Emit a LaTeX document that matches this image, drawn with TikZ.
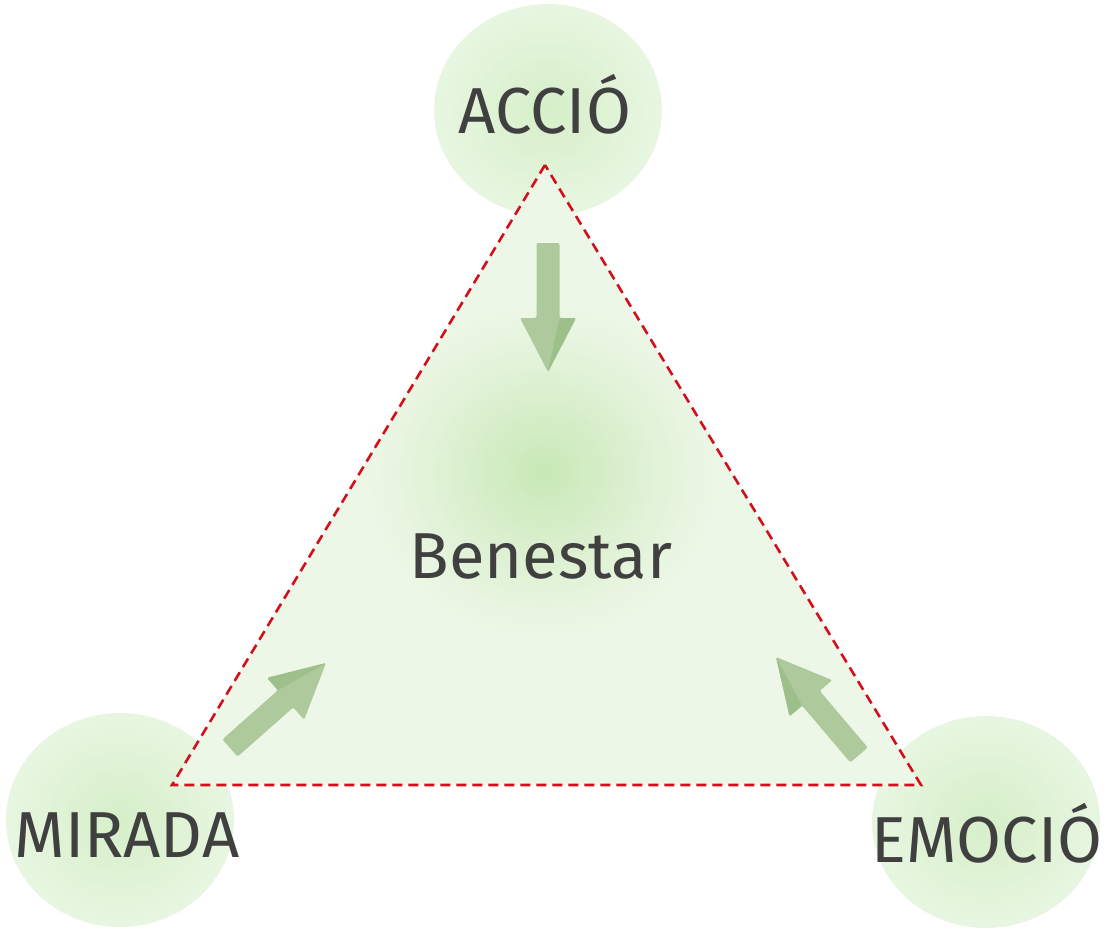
\documentclass[tikz,border=0pt]{standalone}
\usepackage{fontspec}
\setmainfont{Fira Sans}
\usetikzlibrary{calc}
\definecolor{txt}{HTML}{404040}
\definecolor{circin}{HTML}{D6EFC9}
\definecolor{circout}{HTML}{E8F6E1}
\definecolor{trifill}{HTML}{EDF7E7}
\definecolor{glow}{HTML}{C8E8B6}
\definecolor{dashred}{HTML}{D2101C}
\definecolor{arrlight}{HTML}{AECA9D}
\definecolor{arrdark}{HTML}{9DBF89}
\newcommand{\grarrow}[2]{%
  \coordinate (B) at ($(#2)!54pt!(#1)$);
  \fill[arrlight, rounded corners=2pt] ($(#1)!11.5pt!90:(#2)$) -- ($(B)!11.5pt!90:(#2)$) -- ($(B)!28pt!90:(#2)$) -- (#2) -- ($(B)!28pt!-90:(#2)$) -- ($(B)!11.5pt!-90:(#2)$) -- ($(#1)!11.5pt!-90:(#2)$) -- cycle;
  \fill[arrdark, rounded corners=2pt] ($(B)!11.5pt!90:(#2)$) -- ($(B)!28pt!90:(#2)$) -- (#2) -- cycle;
}
% soft bubble made of concentric solid fills: centre, x radius, y radius
\newcommand{\softbubble}[4]{%
  \foreach \i in {0,...,30}{%
    \pgfmathsetmacro{\f}{1-\i/31}%
    \pgfmathsetmacro{\p}{100*\i/30}%
    \fill[#4!\p!circout] #1 ellipse [x radius={#2*\f}, y radius={#3*\f}];
  }%
}
\begin{document}
\begin{tikzpicture}[x=1pt,y=-1pt,
  lbl/.style={text=txt, font=\fontsize{65}{70}\selectfont, inner sep=0pt, anchor=base}]
\useasboundingbox (0,0) rectangle (1107,930);
% bubbles
\softbubble{(548,110)}{114}{106}{circin}
\softbubble{(120,820)}{114}{107}{circin}
\softbubble{(986,822)}{114}{106}{circin}
% triangle
\coordinate (tA) at (545,165);
\coordinate (tM) at (172,785);
\coordinate (tE) at (921,785);
\fill[trifill] (tA) -- (tM) -- (tE) -- cycle;
\begin{scope}
  \clip (tA) -- (tM) -- (tE) -- cycle;
  \foreach \i in {0,...,40}{%
    \pgfmathsetmacro{\f}{1-\i/41}%
    \pgfmathsetmacro{\p}{100*(\i/40)^1.2}%
    \fill[glow!\p!trifill] (543,472) ellipse [x radius={185*\f}, y radius={175*\f}];
  }
\end{scope}
\draw[dashred, line width=2.6pt, dash pattern=on 10pt off 6pt] (tA) -- (tM) -- (tE) -- cycle;
% arrows
\coordinate (a1t) at (548,243);
\coordinate (a1h) at (548,372);
\coordinate (a2t) at (230,748);
\coordinate (a2h) at (326,663);
\coordinate (a3t) at (859,755);
\coordinate (a3h) at (776,657);
\grarrow{a1t}{a1h}
\grarrow{a2t}{a2h}
\grarrow{a3t}{a3h}
% labels
\node[lbl] (accio) at (545,133) {ACCIÓ};
\node[lbl] (benestar) at (541,578) {Benestar};
\node[lbl] (mirada) at (127,857) {MIRADA};
\node[lbl] (emocio) at (987,862) {EMOCIÓ};
\end{tikzpicture}
\end{document}
